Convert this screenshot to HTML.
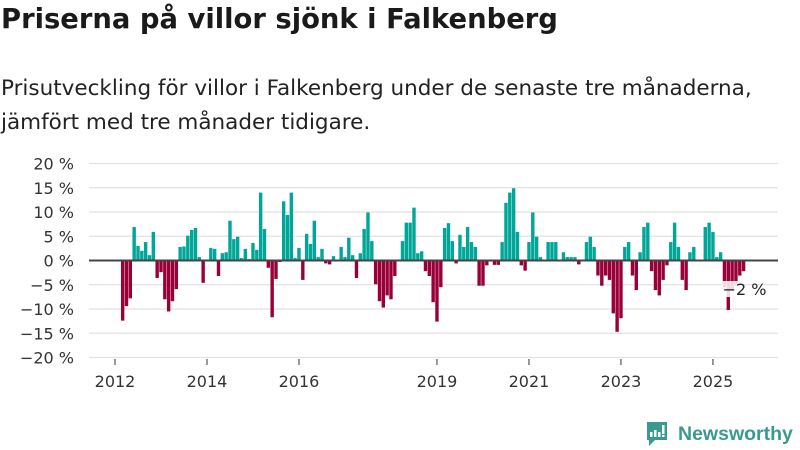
<!DOCTYPE html>
<html lang="sv">
<head>
<meta charset="utf-8">
<style>
  html,body{margin:0;padding:0;background:#fff;}
  body{width:800px;height:450px;overflow:hidden;position:relative;font-family:"DejaVu Sans","Liberation Sans",sans-serif;color:#1a1a1a;}
  #title{position:absolute;left:1px;top:4px;font-size:27.4px;font-weight:bold;margin:0;white-space:nowrap;}
  #subtitle{position:absolute;left:1px;top:72px;font-size:21.5px;line-height:34px;margin:0;width:799px;white-space:nowrap;color:#222;}
  svg{position:absolute;left:0;top:0;}
  #logo{position:absolute;left:645px;top:420px;display:flex;align-items:center;}
  #logo span{font-family:"Liberation Sans",sans-serif;font-size:19.5px;font-weight:bold;color:#3a9a8f;margin-left:9px;}
</style>
</head>
<body>
<h1 id="title">Priserna på villor sjönk i Falkenberg</h1>
<p id="subtitle">Prisutveckling för villor i Falkenberg under de senaste tre månaderna,<br>jämfört med tre månader tidigare.</p>
<svg id="chart" width="800" height="450"></svg>
<div id="logo">
  <svg width="24" height="28" viewBox="0 0 24 28" style="position:static">
    <path d="M2 2h20v18H10l-6 6v-6H2z" fill="#3a9a8f"/>
    <rect x="5" y="12" width="2.5" height="5" fill="#fff"/>
    <rect x="9" y="10" width="2.5" height="7" fill="#fff"/>
    <rect x="13" y="12" width="2.5" height="5" fill="#fff"/>
    <rect x="17" y="5" width="2.5" height="9" fill="#fff"/>
    <rect x="17" y="15" width="2.5" height="2" fill="#fff"/>
  </svg>
  <span>Newsworthy</span>
</div>
<script>
const startMonthIndex = 2; // March 2012 (months since Jan 2012)
const values = [
-12.4,-9.4,-7.8,6.9,3.0,2.0,3.8,1.1,5.9,-3.6,-2.4,-8.0,-10.5,-8.4,-5.9,2.8,2.9,5.1,6.3,6.7,0.7,-4.6,0,2.6,2.4,-3.2,1.5,1.7,8.2,4.4,4.9,0.5,2.4,0.3,3.6,2.2,14.0,6.5,-1.5,-11.7,-3.8,-0.3,
12.2,9.4,14.0,0.5,2.6,-4.0,5.5,3.4,8.2,0.7,2.4,-0.6,-0.8,0.9,0,2.8,0.7,4.7,1.1,-3.6,1.5,6.5,9.9,4.0,-4.9,-8.4,-9.7,-7.2,-8.0,-3.2,0,4.0,7.8,7.8,10.9,1.5,1.9,-2.2,-3.2,-8.6,-12.6,-5.5,6.7,
7.7,4.0,-0.6,5.3,2.8,6.9,3.8,2.8,-5.2,-5.2,-1.0,0,-0.9,-0.9,3.8,11.9,14.0,14.9,5.9,-1.0,-2.1,3.8,9.9,4.9,0.7,0,3.8,3.8,3.8,0,1.7,0.7,0.7,0.7,-0.8,0,3.8,4.9,2.8,-3.1,-5.2,-3.1,-4.0,
-10.9,-14.7,-11.9,2.8,3.8,-3.1,-6.1,1.7,6.9,7.8,-2.2,-6.1,-7.2,-4.0,-1.0,3.8,7.8,2.8,-4.0,-6.1,1.7,2.8,0,0,6.9,7.8,5.9,0.7,1.7,-5.5,-10.2,-6.0,-5.2,-3.1,-2.2
];
const yTicks = [20,15,10,5,0,-5,-10,-15,-20];
const xTickYears = [2012,2014,2016,2019,2021,2023,2025];
const lastLabel = "−2 %";

const svg = document.getElementById('chart');
const NS = 'http://www.w3.org/2000/svg';
const plotLeft = 89, plotRight = 778;
const monthW = 3.833, x0 = 115;
function x(monthIdx){ return x0 + monthIdx*monthW; }
function y(v){ return 260.5 - v*4.85; }
function mk(tag, attrs){ const e=document.createElementNS(NS,tag); for(const k in attrs) e.setAttribute(k,attrs[k]); svg.appendChild(e); return e; }
const FONT = 'DejaVu Sans, Liberation Sans, sans-serif';

yTicks.forEach(t=>{
  const g = mk('line',{x1:plotLeft,x2:plotRight,y1:y(t),y2:y(t),stroke:'#e2e2e2','stroke-width':1.2});
  
  
  const lb = mk('text',{x:74,y:y(t)+6,'text-anchor':'end','font-size':16,fill:'#333','font-family':FONT});
  lb.textContent = (t<0?'−'+(-t):t)+' %';
  
  
});

xTickYears.forEach(yr=>{
  const xx = x((yr-2012)*12);
  const tk = mk('line',{x1:xx,x2:xx,y1:359,y2:365,stroke:'#333','stroke-width':1});
  
  
  const lb = mk('text',{x:xx,y:387,'text-anchor':'middle','font-size':16,fill:'#333','font-family':FONT});
  lb.textContent = yr;
  
  
});

values.forEach((v,i)=>{
  const cx = x(startMonthIndex+i);
  const top = Math.min(y(v),y(0)), h = Math.abs(y(v)-y(0));
  const r = mk('rect',{x:cx-1.7,y:top,width:3.4,height:h,fill:v>=0?'#00a698':'#990038'});
  
  
});

const zl = mk('line',{x1:plotLeft,x2:plotRight,y1:y(0),y2:y(0),stroke:'#444','stroke-width':2});



const lastX = x(startMonthIndex+values.length-1);
const bg = mk('rect',{x:lastX-22,y:281,width:20,height:16,fill:'#fff',opacity:0.85});


const vl = mk('text',{x:lastX-21,y:295,'font-size':16,fill:'#222','font-family':FONT});
vl.textContent = lastLabel;


</script>
</body>
</html>
